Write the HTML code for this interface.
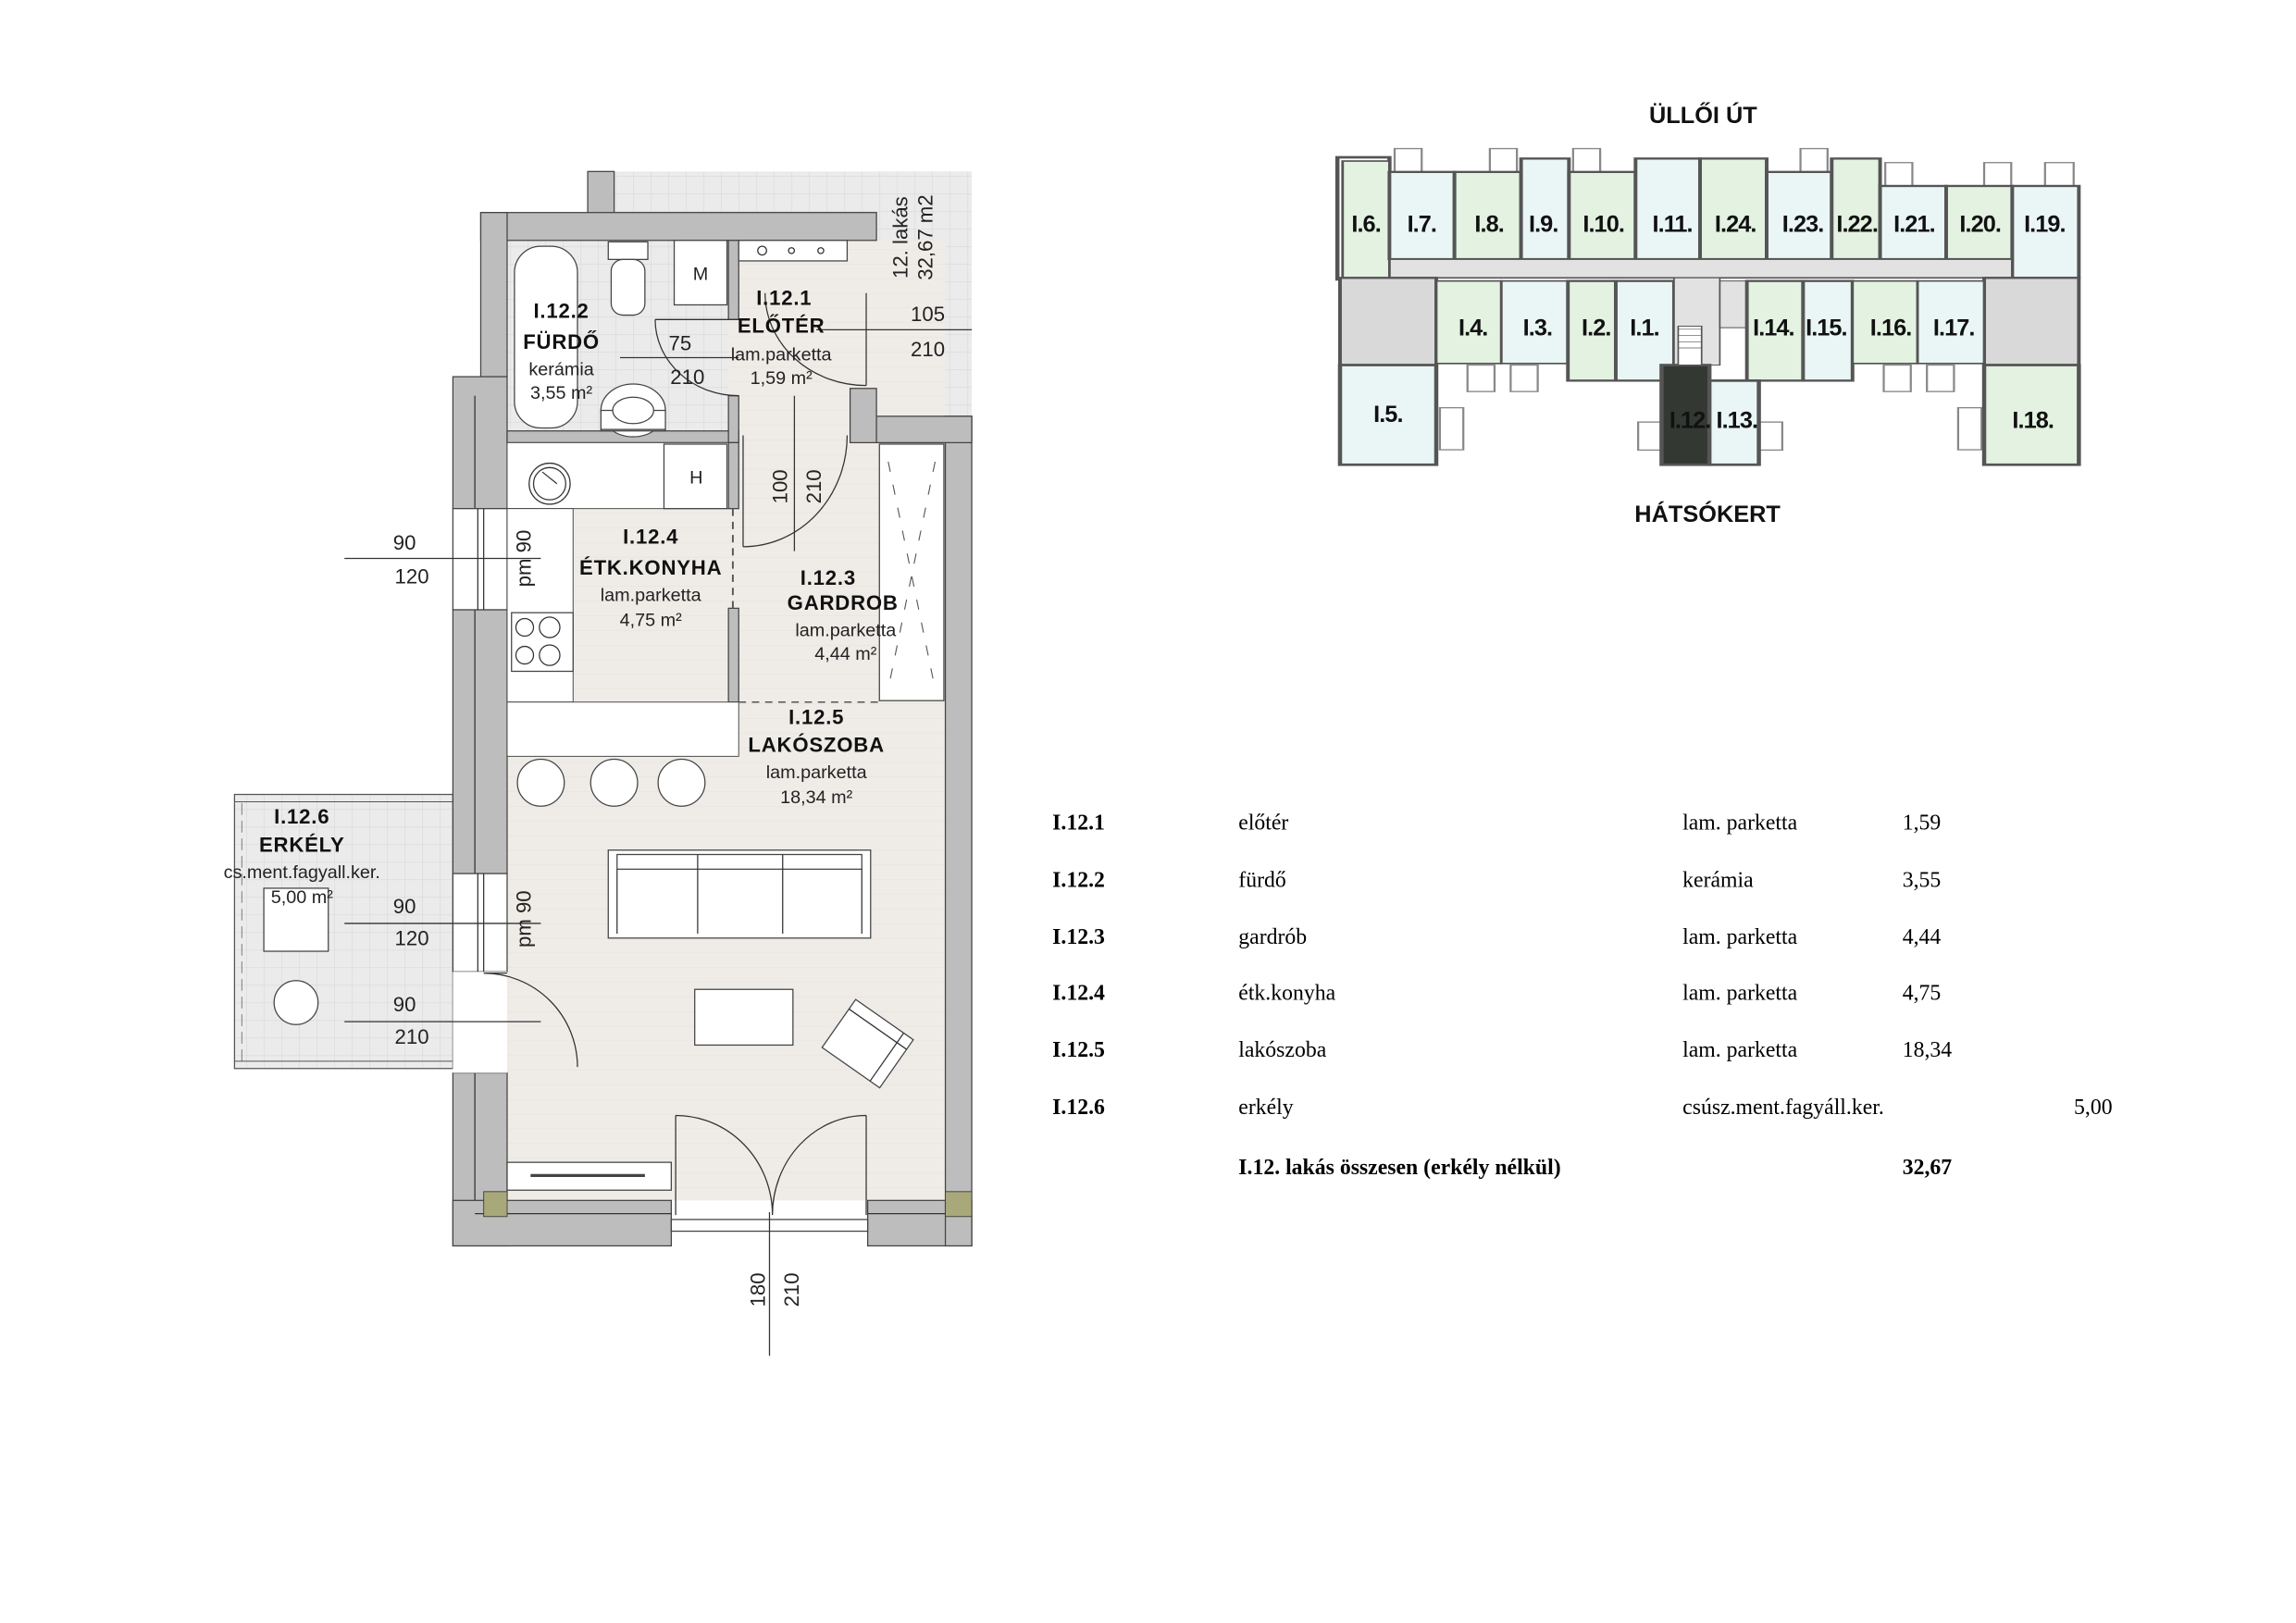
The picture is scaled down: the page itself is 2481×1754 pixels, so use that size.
<!DOCTYPE html>
<html><head><meta charset="utf-8"><style>
html,body{margin:0;padding:0;background:#fff;}
svg{display:block;}
.lb{font-family:"Liberation Sans",sans-serif;font-weight:bold;font-size:14px;fill:#111;text-anchor:middle;letter-spacing:0.5px}
.ln{font-family:"Liberation Sans",sans-serif;font-size:12.5px;fill:#222;text-anchor:middle}
.dm{font-family:"Liberation Sans",sans-serif;font-size:14px;fill:#222;text-anchor:middle}
.kp{font-family:"Liberation Sans",sans-serif;font-weight:bold;font-size:16px;fill:#111;text-anchor:middle;letter-spacing:-0.6px}
.tb{font-family:"Liberation Serif",serif;font-size:15px;fill:#000}
.tbb{font-family:"Liberation Serif",serif;font-size:15px;font-weight:bold;fill:#000}
.w{fill:#bdbdbd;stroke:#444;stroke-width:0.8}
.f{fill:#fff;stroke:#444;stroke-width:0.8}
.t{fill:none;stroke:#333;stroke-width:0.8}
</style></head><body>
<svg width="2481" height="1754" viewBox="0 0 1566.5 1107.3" preserveAspectRatio="none" xmlns="http://www.w3.org/2000/svg">
<defs>
<pattern id="tile" width="12" height="12" patternUnits="userSpaceOnUse"><rect width="12" height="12" fill="#ebebeb"/><path d="M0 0H12M0 0V12" stroke="#d8d8d8" stroke-width="0.7"/></pattern>
<pattern id="par" width="20" height="10" patternUnits="userSpaceOnUse"><rect width="20" height="10" fill="#efece8"/><path d="M0 0H20" stroke="#e4e0db" stroke-width="0.6"/></pattern>
</defs>
<rect width="1566.5" height="1107.3" fill="#fff"/>

<!-- FLOOR PLAN -->
<rect x="401" y="117" width="262" height="30" fill="url(#tile)"/>
<rect x="598" y="117" width="65" height="167" fill="url(#tile)"/>
<rect x="346" y="164" width="299" height="655" fill="url(#par)"/>
<rect x="346" y="164" width="151" height="130" fill="url(#tile)"/>
<rect x="160" y="542" width="149" height="187" fill="url(#tile)" stroke="#555" stroke-width="0.8"/>
<line x1="165" y1="548" x2="165" y2="724" stroke="#777" stroke-width="0.6" stroke-dasharray="8 4"/>
<line x1="160" y1="547" x2="309" y2="547" stroke="#555" stroke-width="0.6"/>
<line x1="160" y1="724" x2="309" y2="724" stroke="#555" stroke-width="0.6"/>

<!-- walls -->
<rect class="w" x="401" y="117" width="18" height="30"/>
<rect class="w" x="328" y="145" width="270" height="19"/>
<rect class="w" x="328" y="145" width="18" height="112"/>
<rect class="w" x="309" y="257" width="37" height="90"/>
<rect class="w" x="309" y="416" width="37" height="180"/>
<rect class="w" x="309" y="732" width="37" height="118"/>
<line class="t" x1="324" y1="270" x2="324" y2="347"/><line class="t" x1="324" y1="416" x2="324" y2="596"/><line class="t" x1="324" y1="732" x2="324" y2="828"/>
<rect class="f" x="309" y="347" width="37" height="69"/><line class="t" x1="326" y1="347" x2="326" y2="416"/><line class="t" x1="330" y1="347" x2="330" y2="416"/>
<rect class="f" x="309" y="596" width="37" height="67"/><line class="t" x1="326" y1="596" x2="326" y2="663"/><line class="t" x1="330" y1="596" x2="330" y2="663"/>
<rect x="309" y="663" width="37" height="69" fill="#fff"/>
<rect class="w" x="309" y="819" width="149" height="31"/>
<rect class="w" x="592" y="819" width="71" height="31"/>
<line class="t" x1="324" y1="828" x2="458" y2="828"/><line class="t" x1="592" y1="828" x2="645" y2="828"/>
<rect class="f" x="458" y="832" width="134" height="8"/>
<rect class="w" x="645" y="284" width="18" height="566"/>
<rect class="w" x="580" y="265" width="18" height="37"/>
<rect class="w" x="598" y="284" width="65" height="18"/>
<rect class="w" x="346" y="294" width="158" height="8"/>
<rect class="w" x="497" y="164" width="7" height="54"/>
<rect class="w" x="497" y="270" width="7" height="32"/>
<rect class="w" x="497" y="302" width="7" height="45"/>
<rect class="w" x="497" y="415" width="7" height="64"/>
<rect x="330" y="813" width="16" height="17" fill="#a8a87a" stroke="#444" stroke-width="0.6"/>
<rect x="645" y="813" width="18" height="17" fill="#a8a87a" stroke="#444" stroke-width="0.6"/>

<!-- bathroom -->
<rect class="f" x="351" y="168" width="43" height="124" rx="18"/>
<rect class="f" x="415" y="165" width="27" height="12"/>
<rect class="f" x="417" y="177" width="23" height="38" rx="8"/>
<rect class="f" x="460" y="164" width="36" height="44"/>
<text class="ln" x="478" y="191" font-size="11">M</text>
<ellipse class="f" cx="432" cy="280" rx="22" ry="18"/>
<rect class="f" x="410" y="280" width="44" height="14" stroke="none"/>
<line class="t" x1="410" y1="293" x2="454" y2="293"/>
<ellipse class="f" cx="432" cy="280" rx="14" ry="9"/>
<rect class="f" x="504" y="164" width="74" height="14"/>
<circle class="t" cx="520" cy="171" r="3"/><circle class="t" cx="540" cy="171" r="2"/><circle class="t" cx="560" cy="171" r="2"/>
<!-- kitchen -->
<rect x="346" y="302" width="151" height="45" fill="#fff" stroke="#444" stroke-width="0.6"/>
<rect x="346" y="347" width="45" height="132" fill="#fff" stroke="#444" stroke-width="0.6"/>
<rect class="f" x="453" y="303" width="43" height="44"/>
<text class="ln" x="475" y="330" font-size="11">H</text>
<circle class="t" cx="375" cy="330" r="14"/><circle class="t" cx="375" cy="330" r="11"/>
<line class="t" x1="370" y1="322" x2="380" y2="330"/>
<rect class="f" x="349" y="418" width="42" height="40"/>
<circle class="t" cx="358" cy="428" r="6"/><circle class="t" cx="375" cy="428" r="7"/><circle class="t" cx="358" cy="447" r="6"/><circle class="t" cx="375" cy="447" r="7"/>
<rect x="346" y="479" width="158" height="37" fill="#fff" stroke="#444" stroke-width="0.6"/>
<circle class="f" cx="369" cy="534" r="16"/><circle class="f" cx="419" cy="534" r="16"/><circle class="f" cx="465" cy="534" r="16"/>
<!-- wardrobe -->
<rect class="f" x="600" y="303" width="44" height="175"/>
<path d="M606 315 L638 470 M638 315 L606 470" stroke="#555" stroke-width="0.7" stroke-dasharray="7 9" fill="none"/>
<!-- dashed -->
<line x1="500" y1="347" x2="500" y2="415" stroke="#555" stroke-width="1.2" stroke-dasharray="5 4"/>
<line x1="504" y1="479" x2="600" y2="479" stroke="#555" stroke-width="1" stroke-dasharray="5 4"/>
<!-- living -->
<rect class="f" x="415" y="580" width="179" height="60"/>
<rect class="f" x="421" y="583" width="167" height="10"/>
<line class="t" x1="421" y1="593" x2="421" y2="637"/><line class="t" x1="588" y1="593" x2="588" y2="637"/>
<line class="t" x1="476" y1="583" x2="476" y2="637"/><line class="t" x1="534" y1="583" x2="534" y2="637"/>
<rect class="f" x="474" y="675" width="67" height="38"/>
<g transform="rotate(35 592 712)"><rect class="f" x="568" y="692" width="48" height="40"/><line class="t" x1="568" y1="700" x2="616" y2="700"/><line class="t" x1="608" y1="692" x2="608" y2="732"/></g>
<rect class="f" x="346" y="793" width="112" height="19"/>
<line x1="362" y1="802" x2="440" y2="802" stroke="#444" stroke-width="2"/>
<!-- balcony furniture -->
<rect class="f" x="180" y="606" width="44" height="43"/>
<circle class="f" cx="202" cy="684" r="15"/>
<!-- doors -->
<path class="t" d="M447 218 L504 218 M447 218 A57 52 0 0 0 504 270"/>
<path class="t" d="M591 200 L591 263 M522 200 A69 63 0 0 0 591 263"/>
<path class="t" d="M507 297 L507 373 M507 373 A71 76 0 0 0 578 297"/>
<path class="t" d="M330 664 L346 664 M330 664 A64 64 0 0 1 394 728"/>
<path class="t" d="M461 761 L461 829 M461 761 A66 68 0 0 1 527 829 M591 761 L591 829 M591 761 A64 68 0 0 0 527 829"/>

<!-- dimensions -->
<line class="t" x1="235" y1="381" x2="369" y2="381"/>
<text class="dm" x="276" y="375">90</text><text class="dm" x="281" y="398">120</text>
<line class="t" x1="235" y1="630" x2="369" y2="630"/>
<text class="dm" x="276" y="623">90</text><text class="dm" x="281" y="645">120</text>
<line class="t" x1="235" y1="697" x2="369" y2="697"/>
<text class="dm" x="276" y="690">90</text><text class="dm" x="281" y="712">210</text>
<text class="dm" transform="translate(362 381) rotate(-90)">pm 90</text>
<text class="dm" transform="translate(362 627) rotate(-90)">pm 90</text>
<line class="t" x1="423" y1="244" x2="504" y2="244"/>
<text class="dm" x="464" y="239">75</text><text class="dm" x="469" y="262">210</text>
<line class="t" x1="557" y1="225" x2="663" y2="225"/>
<text class="dm" x="633" y="219">105</text><text class="dm" x="633" y="243">210</text>
<line class="t" x1="542" y1="270" x2="542" y2="376"/>
<text class="dm" transform="translate(537 332) rotate(-90)">100</text>
<text class="dm" transform="translate(560 332) rotate(-90)">210</text>
<line class="t" x1="525" y1="827" x2="525" y2="925"/>
<text class="dm" transform="translate(522 880) rotate(-90)">180</text>
<text class="dm" transform="translate(545 880) rotate(-90)">210</text>
<text class="dm" transform="translate(619 162) rotate(-90)">12. lakás</text>
<text class="dm" transform="translate(636 162) rotate(-90)">32,67 m2</text>

<!-- room labels -->
<text class="lb" x="383" y="217">I.12.2</text><text class="lb" x="383" y="238">FÜRDŐ</text>
<text class="ln" x="383" y="256">kerámia</text><text class="ln" x="383" y="272">3,55 m²</text>
<text class="lb" x="535" y="208">I.12.1</text><text class="lb" x="533" y="227">ELŐTÉR</text>
<text class="ln" x="533" y="246">lam.parketta</text><text class="ln" x="533" y="262">1,59 m²</text>
<text class="lb" x="444" y="371">I.12.4</text><text class="lb" x="444" y="392">ÉTK.KONYHA</text>
<text class="ln" x="444" y="410">lam.parketta</text><text class="ln" x="444" y="427">4,75 m²</text>
<text class="lb" x="565" y="399">I.12.3</text><text class="lb" x="575" y="416">GARDROB</text>
<text class="ln" x="577" y="434">lam.parketta</text><text class="ln" x="577" y="450">4,44 m²</text>
<text class="lb" x="557" y="494">I.12.5</text><text class="lb" x="557" y="513">LAKÓSZOBA</text>
<text class="ln" x="557" y="531">lam.parketta</text><text class="ln" x="557" y="548">18,34 m²</text>
<text class="lb" x="206" y="562">I.12.6</text><text class="lb" x="206" y="581">ERKÉLY</text>
<text class="ln" x="206" y="599">cs.ment.fagyall.ker.</text><text class="ln" x="206" y="616">5,00 m²</text>

<!-- KEY PLAN -->
<text class="kp" x="1162" y="84" font-size="16" style="letter-spacing:0">ÜLLŐI ÚT</text>
<text class="kp" x="1165" y="356" font-size="16" style="letter-spacing:0">HÁTSÓKERT</text>
<g transform="translate(903.6 61) scale(0.355 0.2125)" stroke="#555" stroke-width="5">
<g fill="none" stroke="#888" stroke-width="4">
<rect x="135" y="190" width="52" height="85"/><rect x="318" y="190" width="52" height="85"/><rect x="478" y="190" width="52" height="85"/><rect x="915" y="190" width="52" height="85"/>
<rect x="1078" y="235" width="52" height="85"/><rect x="1268" y="235" width="52" height="85"/><rect x="1385" y="235" width="55" height="85"/>
<rect x="275" y="885" width="52" height="85"/><rect x="358" y="885" width="52" height="85"/><rect x="1075" y="885" width="52" height="85"/><rect x="1158" y="885" width="52" height="85"/>
<rect x="222" y="1022" width="45" height="135"/><rect x="1218" y="1022" width="45" height="135"/><rect x="603" y="1068" width="45" height="90"/><rect x="835" y="1068" width="45" height="90"/>
</g>
<rect x="25" y="218" width="100" height="392" fill="#fff" stroke-width="8"/>
<rect x="35" y="230" width="90" height="375" fill="#e3f2e1"/>
<rect x="125" y="265" width="125" height="280" fill="#e9f6f5" stroke-width="7"/>
<rect x="250" y="265" width="128" height="280" fill="#e3f2e1" stroke-width="7"/>
<rect x="378" y="222" width="92" height="323" fill="#e9f6f5" stroke-width="7"/>
<rect x="470" y="265" width="128" height="280" fill="#e3f2e1" stroke-width="7"/>
<rect x="598" y="222" width="124" height="323" fill="#e9f6f5" stroke-width="7"/>
<rect x="722" y="222" width="128" height="323" fill="#e3f2e1" stroke-width="7"/>
<rect x="850" y="265" width="125" height="280" fill="#e9f6f5" stroke-width="7"/>
<rect x="975" y="222" width="93" height="323" fill="#e3f2e1" stroke-width="7"/>
<rect x="1068" y="310" width="127" height="235" fill="#e9f6f5" stroke-width="7"/>
<rect x="1195" y="310" width="127" height="235" fill="#e3f2e1" stroke-width="7"/>
<rect x="1322" y="310" width="128" height="295" fill="#e9f6f5" stroke-width="7"/>
<rect x="125" y="545" width="1197" height="60" fill="#e2e2e2" stroke-width="5"/>
<rect x="30" y="605" width="185" height="280" fill="#d9d9d9" stroke-width="7"/>
<rect x="1268" y="605" width="182" height="280" fill="#d9d9d9" stroke-width="7"/>
<rect x="215" y="615" width="125" height="265" fill="#e3f2e1"/>
<rect x="340" y="615" width="128" height="265" fill="#e9f6f5"/>
<rect x="468" y="615" width="92" height="320" fill="#e3f2e1" stroke-width="7"/>
<rect x="560" y="615" width="112" height="320" fill="#e9f6f5" stroke-width="7"/>
<rect x="672" y="605" width="88" height="280" fill="#e2e2e2" stroke-width="3"/>
<rect x="760" y="615" width="52" height="150" fill="#e2e2e2" stroke-width="3"/>
<rect x="812" y="615" width="108" height="320" fill="#e3f2e1" stroke-width="7"/>
<rect x="920" y="615" width="95" height="320" fill="#e9f6f5" stroke-width="7"/>
<rect x="1015" y="615" width="125" height="265" fill="#e3f2e1"/>
<rect x="1140" y="615" width="128" height="265" fill="#e9f6f5"/>
<rect x="30" y="885" width="185" height="320" fill="#e9f6f5" stroke-width="8"/>
<rect x="648" y="885" width="92" height="320" fill="#333833" stroke-width="8"/>
<rect x="740" y="935" width="95" height="270" fill="#e9f6f5" stroke-width="8"/>
<rect x="1268" y="885" width="182" height="320" fill="#e3f2e1" stroke-width="8"/>
<path d="M680 760 H725 V885 H680 Z" fill="#fff" stroke-width="3"/>
<path d="M680 770 H725 M680 790 H725 M680 810 H725 M680 830 H725" stroke-width="2"/>
</g>
<g class="kp">
<text x="932" y="158">I.6.</text><text x="970" y="158">I.7.</text><text x="1016" y="158">I.8.</text><text x="1053" y="158">I.9.</text><text x="1094" y="158">I.10.</text><text x="1141" y="158">I.11.</text><text x="1184" y="158">I.24.</text><text x="1230" y="158">I.23.</text><text x="1267" y="158">I.22.</text><text x="1306" y="158">I.21.</text><text x="1351" y="158">I.20.</text><text x="1395" y="158">I.19.</text>
<text x="1005" y="229">I.4.</text><text x="1049" y="229">I.3.</text><text x="1089" y="229">I.2.</text><text x="1122" y="229">I.1.</text><text x="1210" y="229">I.14.</text><text x="1246" y="229">I.15.</text><text x="1290" y="229">I.16.</text><text x="1333" y="229">I.17.</text>
<text x="947" y="288">I.5.</text><text x="1153" y="292">I.12.</text><text x="1185" y="292">I.13.</text><text x="1387" y="292">I.18.</text>
</g>

<!-- TABLE -->
<g>
<text class="tbb" x="718" y="566">I.12.1</text><text class="tb" x="845" y="566">előtér</text><text class="tb" x="1148" y="566">lam. parketta</text><text class="tb" x="1298" y="566">1,59</text>
<text class="tbb" x="718" y="605">I.12.2</text><text class="tb" x="845" y="605">fürdő</text><text class="tb" x="1148" y="605">kerámia</text><text class="tb" x="1298" y="605">3,55</text>
<text class="tbb" x="718" y="644">I.12.3</text><text class="tb" x="845" y="644">gardrób</text><text class="tb" x="1148" y="644">lam. parketta</text><text class="tb" x="1298" y="644">4,44</text>
<text class="tbb" x="718" y="682">I.12.4</text><text class="tb" x="845" y="682">étk.konyha</text><text class="tb" x="1148" y="682">lam. parketta</text><text class="tb" x="1298" y="682">4,75</text>
<text class="tbb" x="718" y="721">I.12.5</text><text class="tb" x="845" y="721">lakószoba</text><text class="tb" x="1148" y="721">lam. parketta</text><text class="tb" x="1298" y="721">18,34</text>
<text class="tbb" x="718" y="760">I.12.6</text><text class="tb" x="845" y="760">erkély</text><text class="tb" x="1148" y="760">csúsz.ment.fagyáll.ker.</text><text class="tb" x="1415" y="760">5,00</text>
<text class="tbb" x="845" y="801">I.12. lakás összesen (erkély nélkül)</text><text class="tbb" x="1298" y="801">32,67</text>
</g>
</svg>
</body></html>
